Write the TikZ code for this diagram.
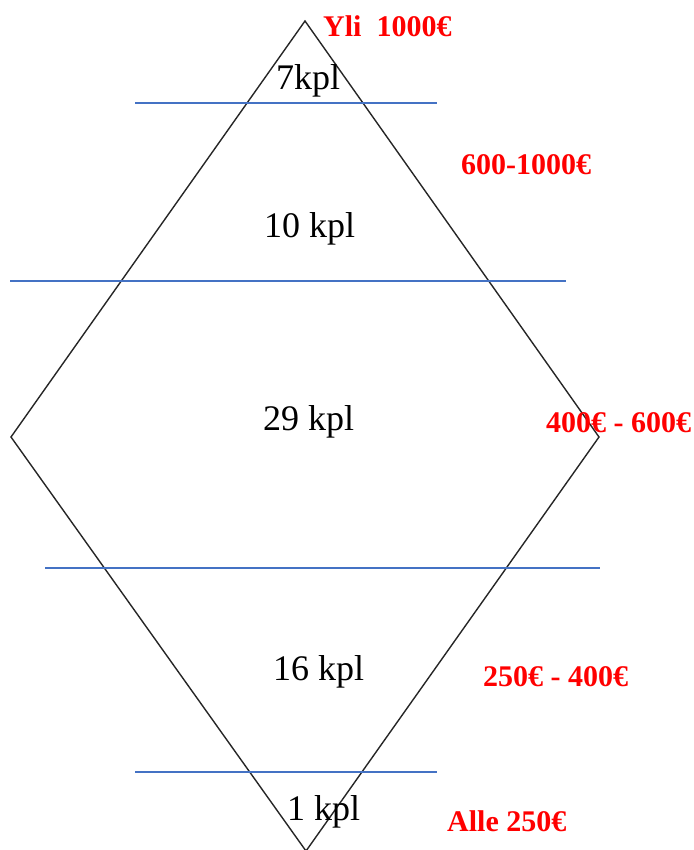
\documentclass[tikz,border=0pt]{standalone}
\usepackage{fontspec}
\setmainfont{Liberation Serif}
\newfontfamily\pricefont[Kerning=Off]{Liberation Serif}
\begin{document}
\begin{tikzpicture}[x=1pt,y=-1pt,
  diamondline/.style={draw=black!85, line width=1.4pt, line join=miter},
  divider/.style={draw={rgb,255:red,68;green,114;blue,196}, line width=1.3pt},
  count/.style={anchor=base west, inner sep=0pt, font=\fontsize{36}{40}\selectfont},
  price/.style={anchor=base west, inner sep=0pt, text=red, font=\pricefont\fontsize{30}{34}\selectfont\bfseries}]
\useasboundingbox (0,0) rectangle (693,850);
% corners of the diamond
\coordinate (top) at (305,21);
\coordinate (left) at (11,437);
\coordinate (right) at (599,437);
\coordinate (bottom) at (306,851);
\draw[diamondline] (top) -- (right) -- (bottom) -- (left) -- cycle;
% horizontal dividers between the price bands
\coordinate (d1a) at (135,103); \coordinate (d1b) at (437,103);
\coordinate (d2a) at (10,281);  \coordinate (d2b) at (566,281);
\coordinate (d3a) at (45,568);  \coordinate (d3b) at (600,568);
\coordinate (d4a) at (135,772); \coordinate (d4b) at (437,772);
\draw[divider] (d1a) -- (d1b);
\draw[divider] (d2a) -- (d2b);
\draw[divider] (d3a) -- (d3b);
\draw[divider] (d4a) -- (d4b);
% counts per band
\node[count] (c1) at (276,90) {7kpl};
\node[count] (c2) at (264,237) {10 kpl};
\node[count] (c3) at (263,430) {29 kpl};
\node[count] (c4) at (273,680) {16 kpl};
\node[count] (c5) at (287,820) {1 kpl};
% price ranges
\node[price] (p1) at (323,37) {Yli\ \ 1000€};
\node[price] (p2) at (461,175) {600-1000€};
\node[price] (p3) at (546,432) {400€ - 600€};
\node[price] (p4) at (483,686) {250€ - 400€};
\node[price] (p5) at (447,831) {Alle 250€};
\end{tikzpicture}
\end{document}
